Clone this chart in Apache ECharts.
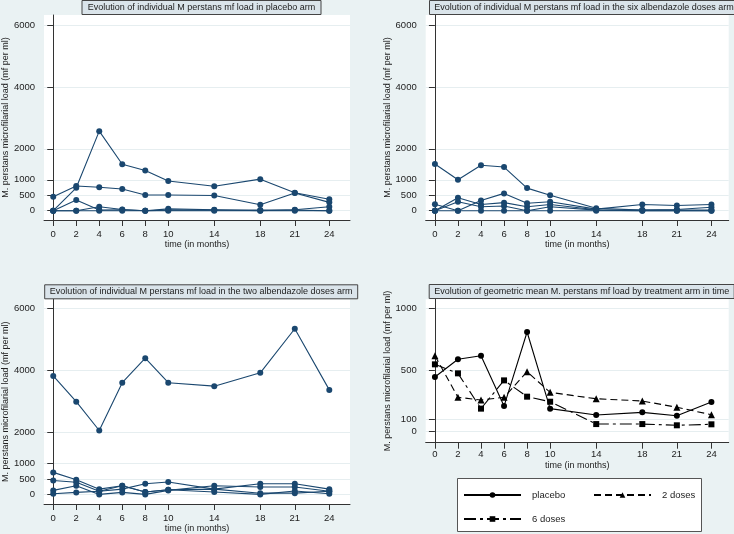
<!DOCTYPE html>
<html>
<head>
<meta charset="utf-8">
<script src="https://cdn.jsdelivr.net/npm/echarts@6/dist/echarts.min.js"></script>
<style>html,body{margin:0;padding:0;background:#eaf2f3;}#c{width:734px;height:534px;}</style>
</head>
<body>
<div id="c"></div>
<script>
// ---- data ----
var months = [0, 2, 4, 6, 8, 10, 14, 18, 21, 24];
var yTicksLoad = [0, 500, 1000, 2000, 4000, 6000];
var yTicksGeo = [0, 100, 500, 1000];

var placebo1 = [0, 740, 2570, 1500, 1300, 960, 790, 1020, 580, 370];
var placebo2 = [450, 800, 760, 700, 510, 510, 490, 195, 570, 270];
var placebo3 = [0, 350, 20, 30, 0, 60, 30, 0, 30, 130];
var placebo4 = [0, 0, 130, 40, 0, 20, 20, 20, 20, 0];
var placebo5 = [0, 0, 0, 0, 0, 0, 0, 0, 0, 0];

var six1 = [1510, 1000, 1470, 1410, 730, 500, 80, 20, 20, 20];
var six2 = [210, 0, 330, 560, 240, 290, 50, 200, 170, 200];
var six3 = [0, 420, 200, 260, 130, 200, 30, 20, 40, 110];
var six4 = [0, 290, 130, 150, 0, 130, 20, 0, 0, 0];
var six5 = [0, 0, 0, 0, 0, 0, 0, 0, 0, 0];

var two1 = [3820, 2990, 2060, 3600, 4390, 3600, 3490, 3920, 5340, 3370];
var two2 = [710, 470, 170, 280, 80, 150, 170, 40, 40, 100];
var two3 = [450, 390, 100, 170, 345, 400, 170, 345, 345, 170];
var two4 = [130, 280, 0, 65, 0, 130, 280, 240, 240, 100];
var two5 = [20, 65, 100, 280, 77, 150, 77, 0, 110, 20];

var gmPlacebo = [443, 587, 616, 208, 808, 187, 135, 157, 130, 241];
var gmTwo = [616, 279, 257, 279, 486, 319, 267, 249, 198, 138];
var gmSix = [546, 473, 187, 416, 284, 243, 62, 62, 52, 60];

var titles = [
  'Evolution of individual M perstans mf load in placebo arm',
  'Evolution of individual M perstans mf load in the six albendazole doses arm',
  'Evolution of individual M perstans mf load in the two albendazole doses arm',
  'Evolution of geometric mean M. perstans mf load by treatment arm in time'
];
var yName = 'M. perstans microfilarial load (mf per ml)';
var xName = 'time (in months)';

// ---- build ----
var NAVY = '#1a476f';
var AX = '#333333';
function pts(arr) { return months.map(function (m, i) { return [m, arr[i]]; }); }
function plain(v) { return String(v); }

var grids = [
  {left: 43.3, top: 15, width: 306.7, height: 205},
  {left: 425.7, top: 15, width: 303, height: 205},
  {left: 43.3, top: 299.3, width: 306.7, height: 205},
  {left: 425.7, top: 299.3, width: 303, height: 143.4}
].map(function (g) {
  return Object.assign({show: true, backgroundColor: '#ffffff', borderWidth: 0, containLabel: false}, g);
});

function xAxis(i, max, margin, gap) {
  return {
    type: 'value', gridIndex: i, min: -0.8, max: max,
    name: xName, nameLocation: 'middle', nameGap: gap,
    nameTextStyle: {fontSize: 9, color: '#222'},
    axisLine: {show: true, onZero: false, lineStyle: {color: AX, width: 1}},
    axisTick: {show: true, length: 6, customValues: months, lineStyle: {color: AX}},
    axisLabel: {customValues: months, fontSize: 9.5, color: '#222', margin: margin, formatter: plain},
    splitLine: {show: false}
  };
}
function yAxis(i, min, max, ticks) {
  return {
    type: 'value', gridIndex: i, min: min, max: max,
    name: yName, nameLocation: 'middle', nameGap: 32,
    nameTextStyle: {fontSize: 9, color: '#222'},
    axisLine: {show: true, lineStyle: {color: AX, width: 1}},
    axisTick: {show: true, length: 6, customValues: ticks, lineStyle: {color: AX}},
    axisLabel: {customValues: ticks, fontSize: 9.5, color: '#222', margin: 9, formatter: plain},
    splitLine: {show: true, lineStyle: {color: '#e6eef0', width: 1}}
  };
}

var series = [];
function indiv(arr, gi, name) {
  series.push({
    type: 'line', name: name, xAxisIndex: gi, yAxisIndex: gi, data: pts(arr),
    symbol: 'circle', symbolSize: 6, showSymbol: true,
    lineStyle: {color: NAVY, width: 1.1}, itemStyle: {color: NAVY},
    silent: true, animation: false
  });
}
[placebo1, placebo2, placebo3, placebo4, placebo5].forEach(function (a, k) { indiv(a, 0, 'P' + k); });
[six1, six2, six3, six4, six5].forEach(function (a, k) { indiv(a, 1, 'S' + k); });
[two1, two2, two3, two4, two5].forEach(function (a, k) { indiv(a, 2, 'T' + k); });

function geo(arr, name, symbol, dash) {
  series.push({
    type: 'line', name: name, xAxisIndex: 3, yAxisIndex: 3, data: pts(arr),
    symbol: symbol, symbolSize: symbol === 'triangle' ? 7 : 6,
    lineStyle: {color: '#000', width: 1.1, type: dash}, itemStyle: {color: '#000'},
    animation: false
  });
}
geo(gmPlacebo, 'placebo', 'circle', 'solid');
geo(gmTwo, '2 doses', 'triangle', [7, 4]);
geo(gmSix, '6 doses', 'rect', [12, 4, 3, 4]);

function titleBox(text, center, top, w) {
  return {
    text: text, left: center, top: top, textAlign: 'center',
    padding: [2, 5], backgroundColor: '#dae4ea', borderColor: '#444', borderWidth: 1,
    textStyle: {fontSize: 9, fontWeight: 'normal', color: '#222', width: w, lineHeight: 11, align: 'center'}
  };
}

function legendItem(name, left, top) {
  return {
    data: [name], left: left, top: top, itemWidth: 57, itemHeight: 7,
    padding: 0, itemGap: 0, selectedMode: false,
    textStyle: {fontSize: 9.5, color: '#222', padding: [0, 0, 0, 6]}
  };
}

var option = {
  backgroundColor: '#eaf2f3',
  animation: false,
  textStyle: {fontFamily: 'Liberation Sans, Arial, sans-serif'},
  title: [
    titleBox(titles[0], 196.5, 0, 229),
    titleBox(titles[1], 579, 0, 298),
    titleBox(titles[2], 196.2, 284.3, 297.7),
    titleBox(titles[3], 576.7, 284, 294)
  ],
  grid: grids,
  xAxis: [xAxis(0, 25.8, 9, 20), xAxis(1, 25.5, 9, 20), xAxis(2, 25.8, 9, 20), xAxis(3, 25.5, 7, 18)],
  yAxis: [yAxis(0, -300, 6323, yTicksLoad), yAxis(1, -300, 6323, yTicksLoad), yAxis(2, -309, 6290, yTicksLoad), yAxis(3, -89, 1073, yTicksGeo)],
  legend: [
    legendItem('placebo', 463, 490),
    legendItem('2 doses', 593, 490),
    legendItem('6 doses', 463, 514)
  ],
  graphic: [{
    type: 'rect', left: 457, top: 478, z: -1,
    shape: {width: 244, height: 53},
    style: {fill: '#ffffff', stroke: '#555', lineWidth: 1}
  }],
  series: series
};

var chart = echarts.init(document.getElementById('c'), null, {renderer: 'canvas'});
chart.setOption(option);
</script>
</body>
</html>
